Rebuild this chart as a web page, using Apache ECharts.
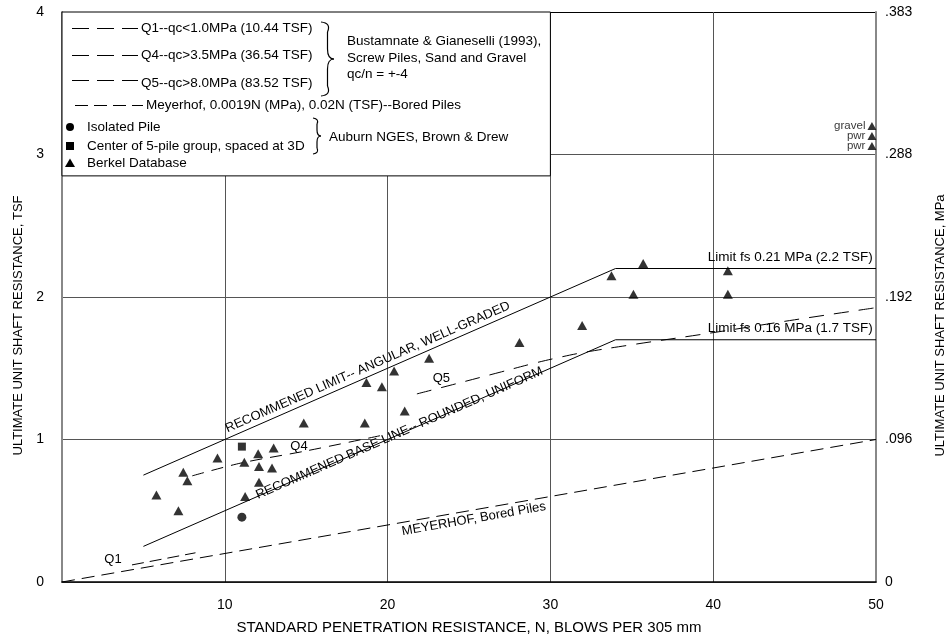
<!DOCTYPE html>
<html><head><meta charset="utf-8">
<script src="https://cdn.jsdelivr.net/npm/echarts@6/dist/echarts.min.js"></script>
<style>html,body{margin:0;padding:0;background:#fff}#c{width:952px;height:637px}</style>
</head><body><div id="c"></div>
<script>
const FONT = '"Liberation Sans", Arial, sans-serif';

// ---- data (N = blows, T = TSF) ----
const xTickLabels = ['', '10', '20', '30', '40', '50'];
const yTickLabels = ['0', '1', '2', '3', '4'];
const mpaTickLabels = ['0', '.096', '.192', '.288', '.383'];

const berkelN = [5.8, 7.15, 7.45, 7.7, 9.55, 11.2, 11.25, 12.05, 12.1, 12.1, 12.9, 13.0, 14.85, 18.6, 18.7, 19.65, 20.4, 21.05, 22.55, 28.1, 31.95, 33.75, 35.1, 35.7, 40.9, 40.9];
const berkelT = [0.61, 0.50, 0.77, 0.71, 0.87, 0.84, 0.60, 0.90, 0.81, 0.70, 0.80, 0.94, 1.115, 1.115, 1.40, 1.37, 1.48, 1.20, 1.57, 1.68, 1.80, 2.15, 2.02, 2.235, 2.185, 2.02];
const taggedN = [49.75, 49.75, 49.75];
const taggedT = [3.2, 3.13, 3.06];
const taggedNames = ['gravel', 'pwr', 'pwr'];
const groupN = [11.05];
const groupT = [0.95];
const isolatedN = [11.05];
const isolatedT = [0.455];

const upperN = [5, 34, 50];
const upperT = [0.75, 2.2, 2.2];
const lowerN = [5, 34, 50];
const lowerT = [0.25, 1.7, 1.7];
const meyN = [0, 50];
const meyT = [0, 1.0];
const q1N = [4.3, 8.2];
const q1T = [0.12, 0.205];
const q4N = [8.0, 11, 15, 20.1];
const q4T = [0.745, 0.835, 0.92, 1.04];
const q5N = [21.8, 24, 27, 29, 30.5, 32, 35, 40, 45, 50];
const q5T = [1.32, 1.385, 1.475, 1.535, 1.575, 1.61, 1.665, 1.75, 1.84, 1.925];

const legendBoxN = [0, 30];
const legendBoxT = [4, 2.85];

const pairs = (xs, ys) => xs.map((x, i) => [x, ys[i]]);

const chart = echarts.init(document.getElementById('c'), null, { renderer: 'canvas' });

const lineSeries = (name, xs, ys, dash, smooth) => ({
  name, type: 'line', data: pairs(xs, ys), symbol: 'none', smooth: smooth || false,
  lineStyle: { color: '#000', width: 1, type: dash || 'solid' }, z: 3, silent: true
});

const option = {
  animation: false,
  textStyle: { fontFamily: FONT },
  grid: { left: 62, right: 76, top: 12, bottom: 55, containLabel: false, outerBoundsMode: 'none' },
  xAxis: {
    type: 'value', min: 0, max: 50, interval: 10,
    axisLine: { show: true, lineStyle: { color: '#000', width: 1.5 } },
    axisTick: { show: false },
    axisLabel: { color: '#000', fontSize: 14, fontFamily: FONT, margin: 16,
      formatter: v => xTickLabels[Math.round(v / 10)] },
    splitLine: { show: true, lineStyle: { color: '#555', width: 1 } },
    name: 'STANDARD PENETRATION RESISTANCE, N, BLOWS PER 305 mm',
    nameLocation: 'middle', nameGap: 38,
    nameTextStyle: { color: '#000', fontSize: 15, fontFamily: FONT }
  },
  yAxis: [{
    type: 'value', min: 0, max: 4, interval: 1, position: 'left',
    axisLine: { show: true, lineStyle: { color: '#888', width: 2 } },
    axisTick: { show: false },
    axisLabel: { color: '#000', fontSize: 14, fontFamily: FONT, margin: 18,
      formatter: v => yTickLabels[Math.round(v)] },
    splitLine: { show: true, lineStyle: { color: ['#555', '#555', '#555', '#555', '#000'], width: 1 } }
  }, {
    type: 'value', min: 0, max: 4, interval: 1, position: 'right',
    axisLine: { show: true, lineStyle: { color: '#888', width: 2 } },
    axisTick: { show: false },
    axisLabel: { color: '#000', fontSize: 14, fontFamily: FONT, margin: 9,
      formatter: v => mpaTickLabels[Math.round(v)] },
    splitLine: { show: false }
  }],
  series: [
    lineSeries('upper', upperN, upperT),
    lineSeries('lower', lowerN, lowerT),
    lineSeries('meyerhof', meyN, meyT, [13, 7]),
    lineSeries('Q1', q1N, q1T, [12, 6]),
    lineSeries('Q4', q4N, q4T, [12, 8], 0.3),
    lineSeries('Q5', q5N, q5T, [15, 10], 0.4),
    { name: 'Berkel', type: 'scatter', data: pairs(berkelN, berkelT), symbol: 'triangle',
      symbolSize: [10, 9], itemStyle: { color: '#000' }, z: 4 },
    { name: 'BerkelTagged', type: 'scatter', data: pairs(taggedN, taggedT), symbol: 'triangle',
      symbolSize: [9, 8], itemStyle: { color: '#000' }, z: 4,
      label: { show: true, position: 'left', distance: 2, color: '#000', fontSize: 11.5, fontFamily: FONT,
        formatter: p => taggedNames[p.dataIndex] } },
    { name: 'group', type: 'scatter', data: pairs(groupN, groupT), symbol: 'rect',
      symbolSize: 8, itemStyle: { color: '#000' }, z: 4 },
    { name: 'isolated', type: 'scatter', data: pairs(isolatedN, isolatedT), symbol: 'circle',
      symbolSize: 9, itemStyle: { color: '#000' }, z: 4 }
  ]
};
chart.setOption(option);

// ---------- annotations (derived from axes) ----------
const px = (n, t) => chart.convertToPixel({ xAxisIndex: 0, yAxisIndex: 0 }, [n, t]);
const g = [];
const LF = '13.5px ' + FONT;
const txt = (text, x, y, opts) => g.push(Object.assign({
  type: 'text', x, y, z: 60,
  style: Object.assign({ text, fill: '#000', font: LF, align: 'left', verticalAlign: 'middle' }, (opts && opts.style) || {})
}));

// text along a line: anchor at N on segment (n0,t0)-(n1,t1), offset d px perpendicular (up positive)
function alongLine(text, n0, t0, n1, t1, nAt, d, size) {
  const a = px(n0, t0), b = px(n1, t1);
  const ang = Math.atan2(-(b[1] - a[1]), b[0] - a[0]);
  const tAt = t0 + (t1 - t0) * (nAt - n0) / (n1 - n0);
  const p = px(nAt, tAt);
  const cx = p[0] - d * Math.sin(ang), cy = p[1] - d * Math.cos(ang);
  g.push({ type: 'text', x: cx, y: cy, rotation: ang, z: 60,
    style: { text, fill: '#000', font: size + 'px ' + FONT, align: 'center', verticalAlign: 'middle' } });
}
alongLine('RECOMMENED LIMIT-- ANGULAR, WELL-GRADED', upperN[0], upperT[0], upperN[1], upperT[1], 19, 9, 13);
alongLine('RECOMMENED BASE LINE-- ROUNDED, UNIFORM', lowerN[0], lowerT[0], lowerN[1], lowerT[1], 20.75, 1, 13);
alongLine('MEYERHOF, Bored Piles', meyN[0], meyT[0], meyN[1], meyT[1], 25.2, -9, 13);

// curve labels
const q1p = px(3.13, 0.16), q4p = px(14.56, 0.95), q5p = px(23.3, 1.43);
txt('Q1', q1p[0], q1p[1], { style: { align: 'center', font: '13px ' + FONT } });
txt('Q4', q4p[0], q4p[1], { style: { align: 'center', font: '13px ' + FONT } });
txt('Q5', q5p[0], q5p[1], { style: { align: 'center', font: '13px ' + FONT } });

// limit labels
const l1 = px(49.8, upperT[2]), l2 = px(49.8, lowerT[2]);
txt('Limit fs 0.21 MPa (2.2 TSF)', l1[0], l1[1] - 4, { style: { align: 'right', verticalAlign: 'bottom' } });
txt('Limit fs 0.16 MPa (1.7 TSF)', l2[0], l2[1] - 4, { style: { align: 'right', verticalAlign: 'bottom' } });

// y axis titles
const midY = px(0, 1.8)[1];
g.push({ type: 'text', x: 18, y: midY, rotation: Math.PI / 2, z: 60,
  style: { text: 'ULTIMATE UNIT SHAFT RESISTANCE, TSF', fill: '#000', font: '13px ' + FONT, align: 'center', verticalAlign: 'middle' } });
g.push({ type: 'text', x: 940, y: midY, rotation: Math.PI / 2, z: 60,
  style: { text: 'ULTIMATE UNIT SHAFT RESISTANCE, MPa', fill: '#000', font: '13px ' + FONT, align: 'center', verticalAlign: 'middle' } });

// legend box
const b0 = px(legendBoxN[0], legendBoxT[0]), b1 = px(legendBoxN[1], legendBoxT[1]);
g.push({ type: 'rect', z: 50, shape: { x: b0[0], y: b0[1], width: b1[0] - b0[0], height: b1[1] - b0[1] },
  style: { fill: '#fff', stroke: '#000', lineWidth: 1 } });
const ox = Math.round(b0[0]), oy = Math.round(b0[1]);
const dline = (x1, x2, y, dash) => g.push({ type: 'line', z: 60,
  shape: { x1: ox + x1, y1: oy + y + 0.5, x2: ox + x2, y2: oy + y + 0.5 }, style: { stroke: '#000', lineWidth: 1, lineDash: dash } });
dline(10, 76, 16, [17, 8]);  txt('Q1--qc<1.0MPa (10.44 TSF)', ox + 79, oy + 16);
dline(10, 76, 43, [17, 8]);  txt('Q4--qc>3.5MPa (36.54 TSF)', ox + 79, oy + 43);
dline(10, 76, 68, [17, 8]);  txt('Q5--qc>8.0MPa (83.52 TSF)', ox + 79, oy + 71);
dline(13, 81, 93, [13, 6]);  txt('Meyerhof, 0.0019N (MPa), 0.02N (TSF)--Bored Piles', ox + 84, oy + 93);
txt('Bustamnate & Gianeselli (1993),', ox + 285, oy + 29);
txt('Screw Piles, Sand and Gravel', ox + 285, oy + 46);
txt('qc/n = +-4', ox + 285, oy + 62);
g.push({ type: 'circle', z: 60, shape: { cx: ox + 8, cy: oy + 115, r: 4 }, style: { fill: '#000' } });
g.push({ type: 'rect', z: 60, shape: { x: ox + 4, y: oy + 130, width: 8, height: 8 }, style: { fill: '#000' } });
g.push({ type: 'polygon', z: 60, shape: { points: [[ox + 8, oy + 146.5], [ox + 13, oy + 155], [ox + 3, oy + 155]] }, style: { fill: '#000' } });
txt('Isolated Pile', ox + 25, oy + 115);
txt('Center of 5-pile group, spaced at 3D', ox + 25, oy + 134);
txt('Berkel Database', ox + 25, oy + 151);
txt('Auburn NGES, Brown & Drew', ox + 267, oy + 125);

function brace(x0, y0, y1, w) {
  const xm = x0 + w / 2, xt = x0 + w, ym = (y0 + y1) / 2, r = Math.min((y1 - y0) / 6, 10);
  const st = { stroke: '#000', lineWidth: 1.2, fill: null };
  const seg = (x1, y1_, cx, cy, x2, y2) => g.push({ type: 'bezierCurve', z: 60,
    shape: { x1: ox + x1, y1: oy + y1_, cpx1: ox + cx, cpy1: oy + cy, x2: ox + x2, y2: oy + y2 }, style: st });
  const ln = (x1, y1_, x2, y2) => g.push({ type: 'line', z: 60,
    shape: { x1: ox + x1, y1: oy + y1_, x2: ox + x2, y2: oy + y2 }, style: st });
  seg(x0, y0, xm + w * 0.3, y0 + 1, xm, y0 + r);
  ln(xm, y0 + r, xm, ym - r);
  seg(xm, ym - r, xm, ym, xt, ym);
  seg(xt, ym, xm, ym, xm, ym + r);
  ln(xm, ym + r, xm, y1 - r);
  seg(xm, y1 - r, xm + w * 0.3, y1 - 1, x0, y1);
}
brace(259, 10, 84, 13);
brace(251, 106, 142, 8);

chart.setOption({ graphic: { elements: g } });
</script></body></html>
